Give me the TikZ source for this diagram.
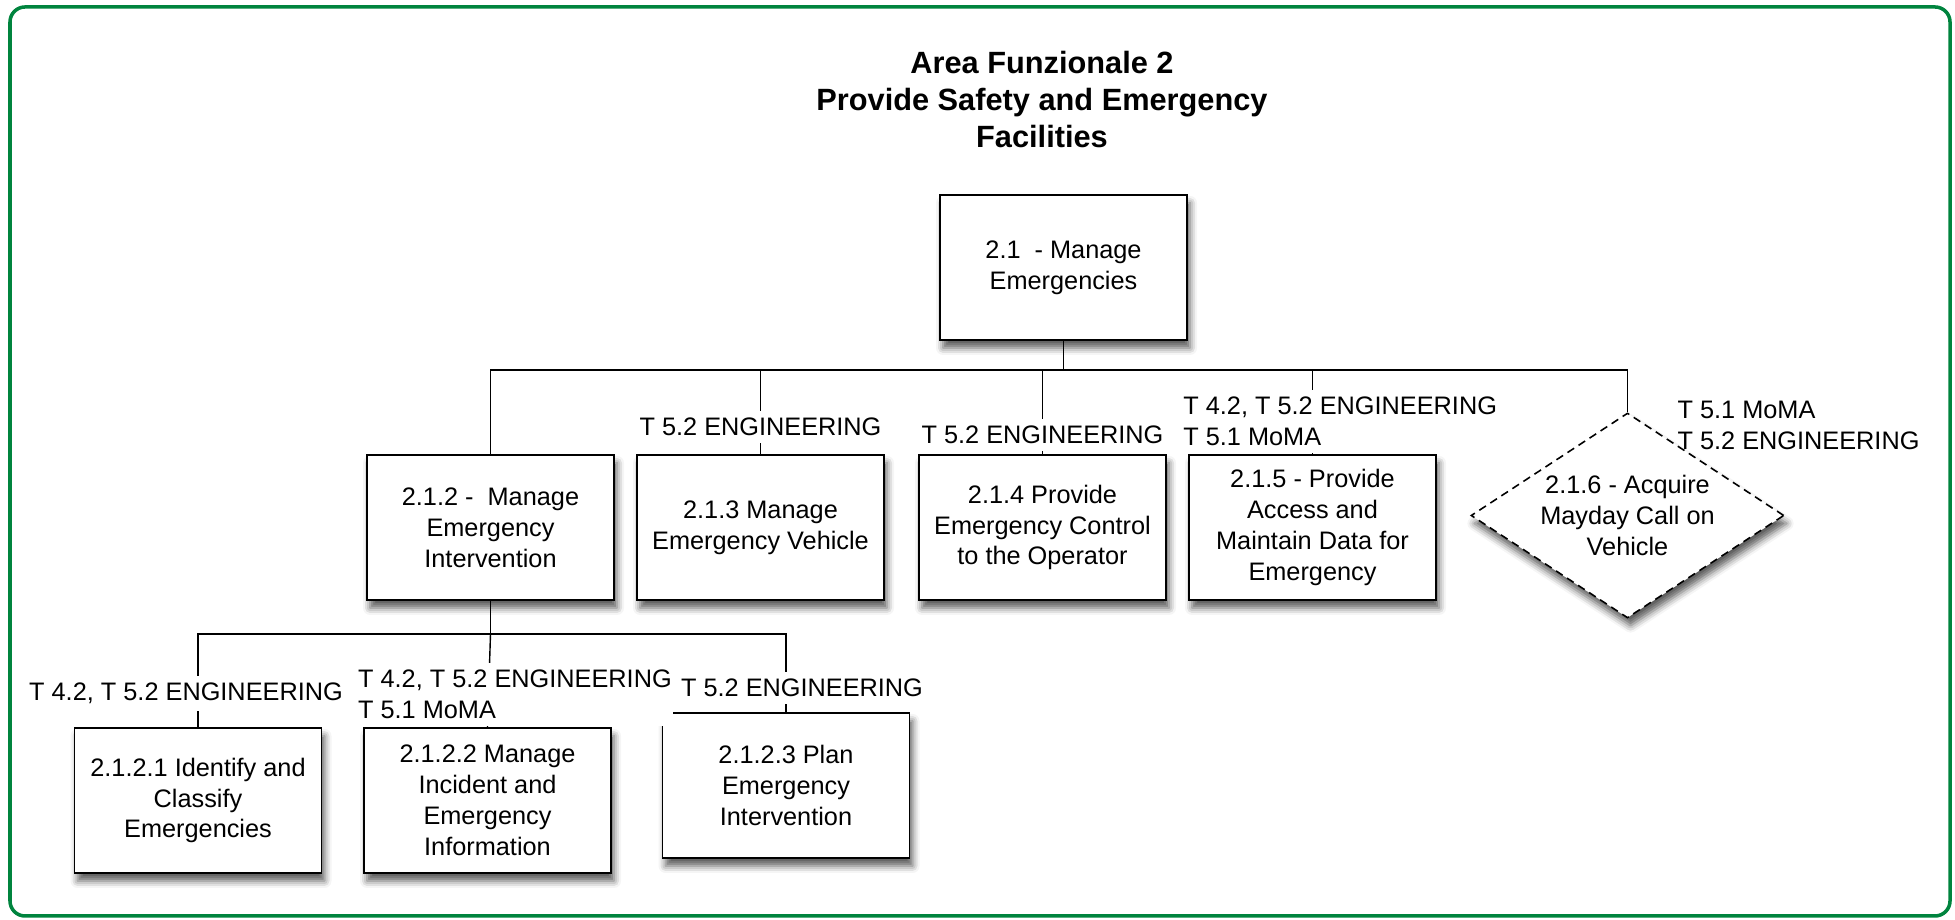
\documentclass[tikz,border=0pt]{standalone}
\usepackage{fontspec}
\setmainfont{Liberation Sans}
\usetikzlibrary{positioning,shapes.geometric,shadows.blur}
\definecolor{areagreen}{RGB}{0,132,62}

\begin{document}
\begin{tikzpicture}[font=\fontsize{14.4}{17.6}\selectfont,node distance=5.5cm,
                task/.style={rectangle,draw,line width=1.1pt,fill=white,minimum width=4.94cm,minimum height=2.9cm,
                  align=center,inner sep=2pt,
                  blur shadow={shadow xshift=0.06cm,shadow yshift=-0.16cm,shadow blur radius=0.14cm,shadow opacity=65}},
                mayday/.style={diamond,draw,line width=0.9pt,dash pattern=on 4.5pt off 3pt,fill=white,aspect=1.5,
                  inner sep=0pt,minimum width=6.26cm,minimum height=4.1cm,align=center,
                  blur shadow={shadow xshift=0.06cm,shadow yshift=-0.16cm,shadow blur radius=0.14cm,shadow opacity=65}},
                tag/.style={fill=white,inner xsep=1pt,inner ysep=0.14cm,align=left},
                link/.style={line width=0.8pt}]
  \useasboundingbox (0,0) rectangle (39.1,18.4);
  \draw[areagreen,line width=2pt,rounded corners=0.3cm] (0.2,0.08) rectangle (39.0,18.26);

  \node[font=\fontsize{17.5}{21.2}\selectfont\bfseries,align=center] (title) at (20.84,16.41)
    {Area Funzionale 2\\Provide Safety and Emergency\\Facilities};

  % level 1 and 2
  \node[task] (r) at (21.27,13.05) {2.1~~- Manage\\Emergencies};
  \node[task,on grid,below left=5.2cm and 11.46cm of r] (b2) {2.1.2 -~~Manage\\Emergency\\Intervention};
  \node[task,on grid,right=5.4cm of b2] (b3) {2.1.3 Manage\\Emergency Vehicle};
  \node[task,on grid,right=5.64cm of b3] (b4) {2.1.4 Provide\\Emergency Control\\to the Operator};
  \node[task,on grid,right=5.4cm of b4] (b5) {2.1.5 - Provide\\Access and\\Maintain Data for\\Emergency};
  \node[mayday,on grid,above right=0.24cm and 6.3cm of b5] (d6) {2.1.6 - Acquire\\Mayday Call on\\Vehicle};

  % level 3
  \node[task,on grid,below=5.46cm of b2,xshift=-0.06cm] (c2) {2.1.2.2 Manage\\Incident and\\Emergency\\Information};
  \node[task,on grid,left=5.79cm of c2] (c1) {2.1.2.1 Identify and\\Classify\\Emergencies};
  \node[task,on grid,above right=0.3cm and 5.97cm of c2] (c3) {2.1.2.3 Plan\\Emergency\\Intervention};

  \draw[link] (r.south) -- ++(0,-0.58) coordinate (bus);
  \draw[link] (b2.north) |- (bus) -| (d6.north);
  \foreach \n in {b3,b4,b5}
    \draw[link] (\n.north) -- (\n.north |- bus);
  \draw[link] (b2.south) -- ++(0,-0.66) coordinate (sub);
  \draw[link] (c1.north) |- (sub) -| (c3.north);
  \draw[link] (sub) -- (c2.north);

  % work packages
  \node[tag,above=0.22cm of b3] (t3) {T 5.2 ENGINEERING};
  \node[tag,above=0.06cm of b4] (t4) {T 5.2 ENGINEERING};
  \node[tag,above right=0.02cm and -0.135cm of b5.north west] (t5) {T 4.2, T 5.2 ENGINEERING\\T 5.1 MoMA};
  \node[tag,fill=none,above right=-0.9cm and 0.96cm of d6.north] (t6) {T 5.1 MoMA\\T 5.2 ENGINEERING};
  \node[tag,above=0.31cm of c1,xshift=-0.24cm] (s1) {T 4.2, T 5.2 ENGINEERING};
  \node[tag,above right=0.02cm and -0.14cm of c2.north west] (s2) {T 4.2, T 5.2 ENGINEERING\\T 5.1 MoMA};
  \node[tag,above=0.16cm of c3,xshift=0.32cm] (s3) {T 5.2 ENGINEERING};
\end{tikzpicture}
\end{document}
